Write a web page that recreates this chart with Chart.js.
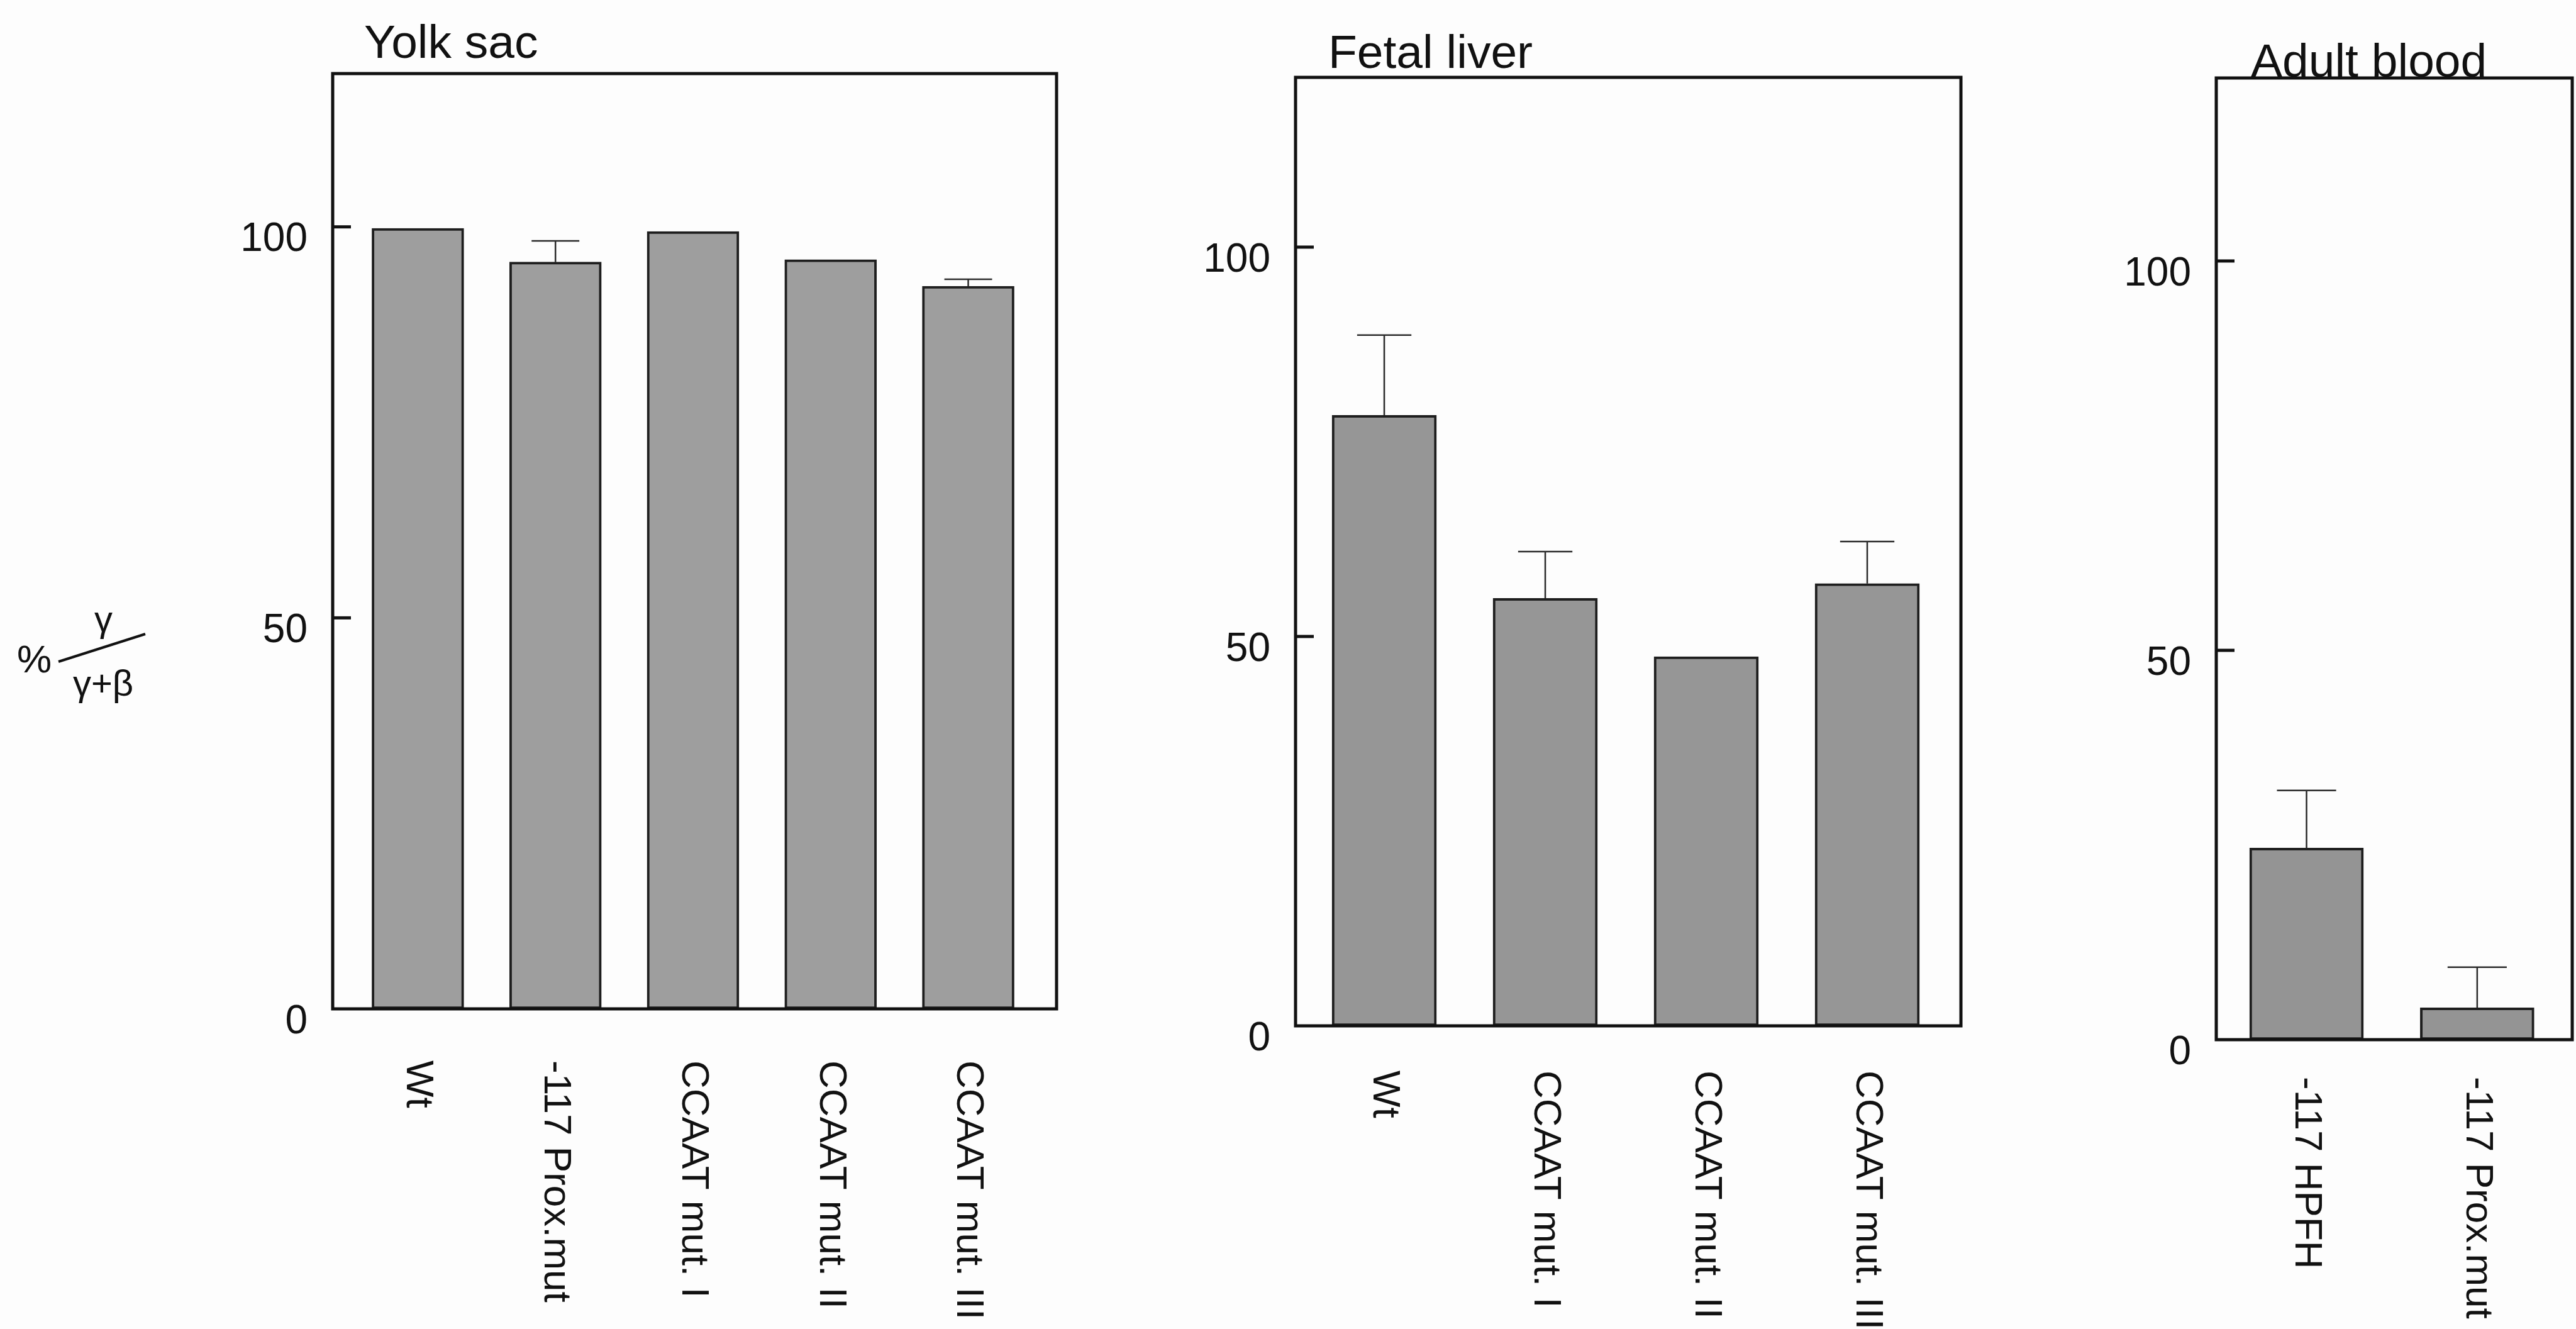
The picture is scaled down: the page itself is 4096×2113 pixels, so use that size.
<!DOCTYPE html>
<html>
<head>
<meta charset="utf-8">
<script src="https://cdn.jsdelivr.net/npm/chart.js@4.4.0/dist/chart.umd.min.js"></script>
<style>
  html, body { margin: 0; padding: 0; background: #fdfdfd; }
  body { width: 4096px; height: 2113px; position: relative; overflow: hidden; }
  canvas { position: absolute; top: 0; }
</style>
</head>
<body>
<canvas id="yolk" width="1800" height="2113" style="left:0"></canvas>
<canvas id="liver" width="1500" height="2113" style="left:1800px"></canvas>
<canvas id="blood" width="796" height="2113" style="left:3300px"></canvas>
<script>
// values (% gamma / (gamma + beta))
const yolkLabels = ['Wt', '-117 Prox.mut', 'CCAAT mut. I', 'CCAAT mut. II', 'CCAAT mut. III'];
const yolkValues = [99.8, 95.5, 99.4, 95.8, 92.4];
const yolkErrors = [0, 2.7, 0, 0, 0.9];

const liverLabels = ['Wt', 'CCAAT mut. I', 'CCAAT mut. II', 'CCAAT mut. III'];
const liverValues = [78.4, 54.9, 47.4, 56.8];
const liverErrors = [10.3, 6.0, 0, 5.4];

const bloodLabels = ['-117 HPFH', '-117 Prox.mut'];
const bloodValues = [24.6, 4.1];
const bloodErrors = [7.4, 5.2];

const yTicks = [0, 50, 100];

const FONT = "'Liberation Sans', Arial, sans-serif";

const panelPlugin = {
    id: 'panel',
    afterDatasetsDraw(chart, args, opts) {
        const ctx = chart.ctx;
        const a = chart.chartArea;
        const x = chart.scales.x;
        const y = chart.scales.y;
        const meta = chart.getDatasetMeta(0);
        ctx.save();

        // error bars, upper whisker only
        ctx.strokeStyle = '#2a2a2a';
        ctx.lineWidth = 2.5;
        meta.data.forEach(function (bar, i) {
            const e = opts.errors[i];
            if (!e) return;
            const top = y.getPixelForValue(opts.values[i] + e);
            const half = bar.width * 0.26;
            ctx.beginPath();
            ctx.moveTo(bar.x, bar.y);
            ctx.lineTo(bar.x, top);
            ctx.moveTo(bar.x - half, top);
            ctx.lineTo(bar.x + half, top);
            ctx.stroke();
        });

        // box round the plot
        ctx.strokeStyle = '#111';
        ctx.lineWidth = 5;
        ctx.strokeRect(a.left, a.top, a.right - a.left, a.bottom - a.top);

        // tick marks point inwards
        yTicks.forEach(function (v) {
            if (v === 0) return;
            const py = y.getPixelForValue(v);
            ctx.beginPath();
            ctx.moveTo(a.left, py);
            ctx.lineTo(a.left + 29, py);
            ctx.stroke();
        });

        // category names, turned to read downwards
        ctx.fillStyle = '#111';
        ctx.font = '62px ' + FONT;
        ctx.textAlign = 'left';
        ctx.textBaseline = 'middle';
        opts.labels.forEach(function (lab, i) {
            ctx.save();
            ctx.translate(x.getPixelForValue(i), a.bottom + opts.labelGap);
            ctx.rotate(Math.PI / 2);
            ctx.fillText(lab, 0, 0);
            ctx.restore();
        });

        // panel title
        ctx.font = '75px ' + FONT;
        ctx.textBaseline = 'alphabetic';
        ctx.fillText(opts.title, a.left + opts.titleDx, opts.titleY);

        // y axis label  % gamma / (gamma+beta)
        if (opts.fraction) {
            ctx.font = '62px ' + FONT;
            ctx.textBaseline = 'middle';
            ctx.fillText('%', 27, 1052);
            ctx.font = '58px ' + FONT;
            ctx.fillText('γ', 150, 988);
            ctx.fillText('γ+β', 116, 1090);
            ctx.lineWidth = 4;
            ctx.beginPath();
            ctx.moveTo(93, 1052);
            ctx.lineTo(231, 1008);
            ctx.stroke();
        }
        ctx.restore();
    }
};

function makePanel(id, p) {
    const canvas = document.getElementById(id);
    return new Chart(canvas, {
        type: 'bar',
        data: {
            datasets: [{
                data: p.values.map(function (v, i) { return { x: i, y: v }; }),
                backgroundColor: p.color,
                borderColor: '#1e1e1e',
                borderWidth: 4,
                borderSkipped: false,
                barThickness: p.barThickness
            }]
        },
        options: {
            responsive: false,
            animation: false,
            devicePixelRatio: 1,
            layout: {
                padding: {
                    left: 0,
                    top: p.frame.top,
                    right: canvas.width - p.frame.right,
                    bottom: canvas.height - p.frame.bottom
                }
            },
            scales: {
                x: {
                    type: 'linear',
                    display: false,
                    offset: false,
                    min: p.xMin,
                    max: p.xMax
                },
                y: {
                    min: 0,
                    max: p.yMax,
                    afterBuildTicks: function (s) {
                        s.ticks = yTicks.map(function (v) { return { value: v }; });
                    },
                    afterFit: function (s) { s.width = p.frame.left; },
                    grid: { display: false, drawTicks: false },
                    border: { display: false },
                    ticks: {
                        padding: 40,
                        labelOffset: 21,
                        color: '#111',
                        font: { family: FONT, size: 64 }
                    }
                }
            },
            plugins: {
                legend: { display: false },
                tooltip: { enabled: false },
                panel: {
                    labels: p.labels,
                    values: p.values,
                    errors: p.errors,
                    labelGap: p.labelGap,
                    title: p.title,
                    titleDx: p.titleDx,
                    titleY: p.titleY,
                    fraction: p.fraction
                }
            }
        },
        plugins: [panelPlugin]
    });
}

var chartYolk = makePanel('yolk', {
    labels: yolkLabels, values: yolkValues, errors: yolkErrors,
    frame: { left: 529, top: 117, right: 1680, bottom: 1604 },
    xMin: -0.619, xMax: 4.642, yMax: 119.6,
    barThickness: 146, color: '#9e9e9e',
    labelGap: 82, title: 'Yolk sac', titleDx: 50, titleY: 92, fraction: true
});

var chartLiver = makePanel('liver', {
    labels: liverLabels, values: liverValues, errors: liverErrors,
    frame: { left: 260, top: 123, right: 1318, bottom: 1631 },
    xMin: -0.551, xMax: 3.582, yMax: 121.8,
    barThickness: 166, color: '#969696',
    labelGap: 71, title: 'Fetal liver', titleDx: 52, titleY: 108, fraction: false
});

var chartBlood = makePanel('blood', {
    labels: bloodLabels, values: bloodValues, errors: bloodErrors,
    frame: { left: 224, top: 124, right: 790, bottom: 1653 },
    xMin: -0.529, xMax: 1.557, yMax: 123.5,
    barThickness: 181, color: '#949494',
    labelGap: 59, title: 'Adult blood', titleDx: 55, titleY: 122, fraction: false
});
</script>
</body>
</html>
